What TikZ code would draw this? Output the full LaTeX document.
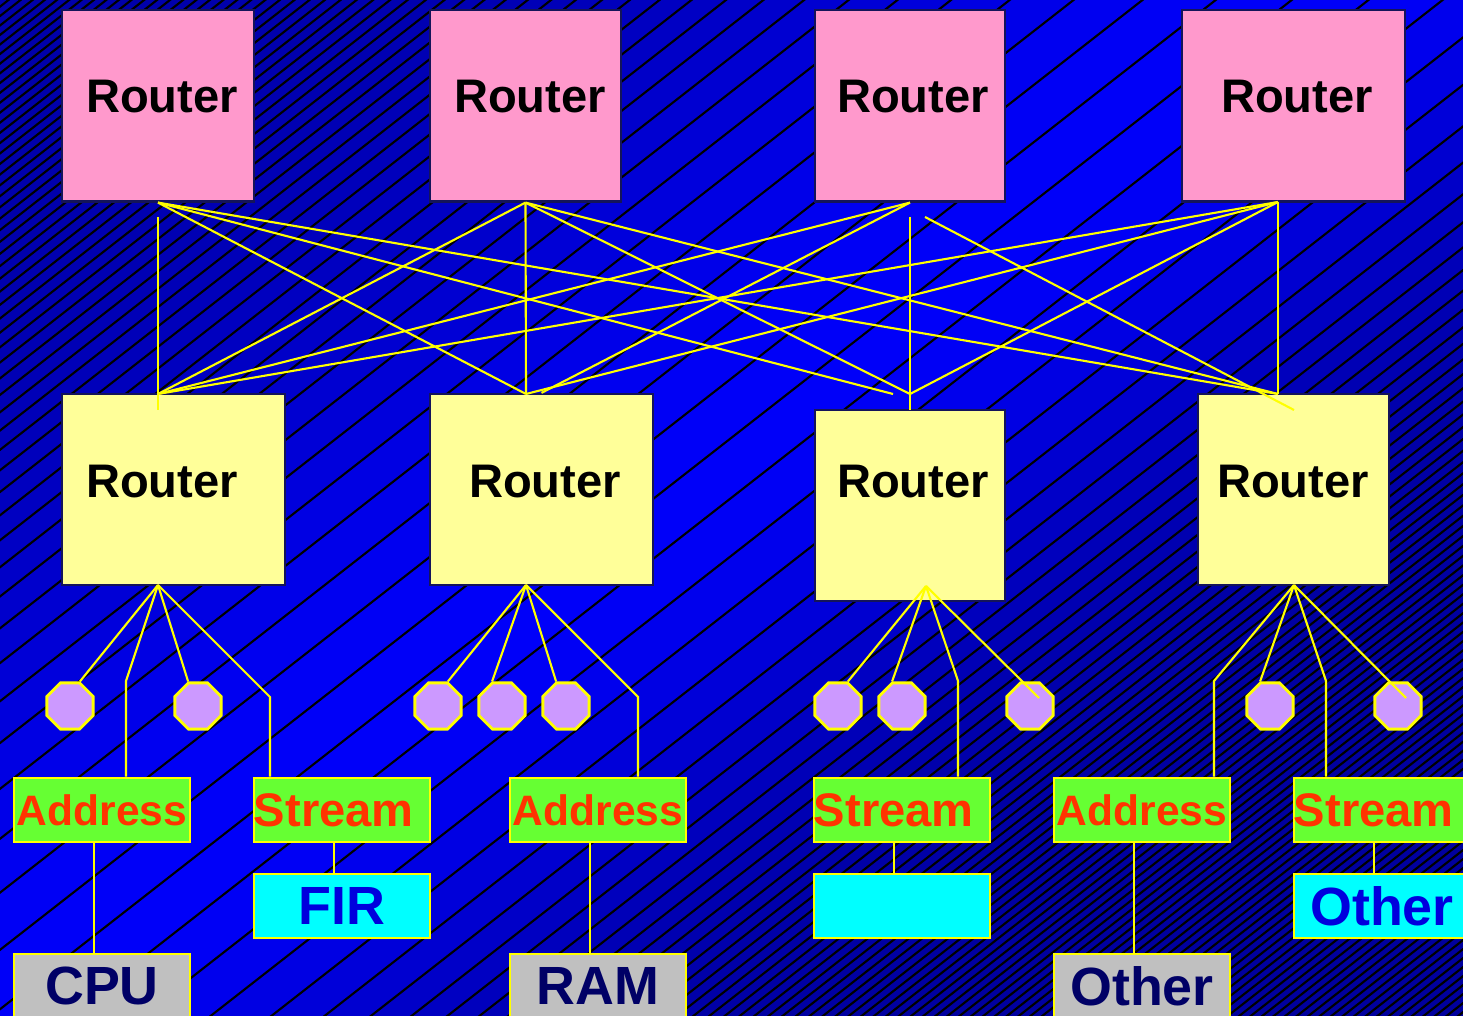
\documentclass[tikz,border=0pt]{standalone}
\usepackage{fontspec}
\setmainfont{Liberation Sans}
\usetikzlibrary{shapes.geometric,calc}

\definecolor{routerpink}{HTML}{FF99CC}
\definecolor{routeryellow}{HTML}{FFFF99}
\definecolor{navyedge}{RGB}{20,20,90}
\definecolor{linkyellow}{HTML}{FFFF00}
\definecolor{portgreen}{HTML}{66FF33}
\definecolor{porttext}{HTML}{FF3300}
\definecolor{devcyan}{HTML}{00FFFF}
\definecolor{devgray}{HTML}{C0C0C0}
\definecolor{devnavy}{HTML}{000066}
\definecolor{devblue}{HTML}{0000DD}
\definecolor{octlilac}{HTML}{CC99FF}

% spacing of the background bands as a function of the offset \cv
\def\bandstep{%
  \pgfmathsetmacro\wv{\cv<1000 ? 450 : 340}%
  \pgfmathsetmacro\gv{exp(-((\cv-1000)/\wv)*((\cv-1000)/\wv))}%
  \pgfmathsetmacro\cn{\cv+9+51*\gv}%
}

\begin{document}
\begin{tikzpicture}[x=0.01cm,y=-0.01cm,
  hatchline/.style={black,line width=0.6pt},
  link/.style={draw=linkyellow,line width=0.6pt},
  routerbox/.style={rectangle,draw=navyedge,line width=0.6pt,inner sep=0pt,minimum height=1.91cm},
  corerouter/.style={routerbox,fill=routerpink},
  edgerouter/.style={routerbox,fill=routeryellow},
  routerlabel/.style={anchor=base,inner sep=0pt,font=\fontsize{13.4}{15}\selectfont\bfseries},
  port/.style={regular polygon,regular polygon sides=8,minimum size=0.5cm,inner sep=0pt,
               fill=octlilac,draw=linkyellow,line width=0.8pt},
  tagbox/.style={rectangle,draw=linkyellow,line width=0.7pt,inner sep=0pt,
                 minimum width=1.76cm,minimum height=0.64cm},
  addrbox/.style={tagbox,fill=portgreen,text=porttext,font=\fontsize{12.1}{13}\selectfont\bfseries},
  streambox/.style={tagbox,fill=portgreen,text=porttext,text width=1.76cm,align=left,
                    font=\fontsize{13.4}{15}\selectfont\bfseries},
  cyanbox/.style={tagbox,fill=devcyan,text=devblue,font=\fontsize{15.3}{17}\selectfont\bfseries},
  graybox/.style={tagbox,fill=devgray,text=devnavy,font=\fontsize{15.3}{17}\selectfont\bfseries}]

\useasboundingbox (0,0) rectangle (1463,1016);
\begin{scope}
\clip (0,0) rectangle (1463,1016);

% banded blue background: parallel bands rising at about 38 degrees
\def\cv{-12}
\loop
  \bandstep
  \pgfmathtruncatemacro\bv{min(255,170-12*(\cv/2160)+85*\gv)}
  \definecolor{bandblue}{RGB}{0,0,\bv}
  \fill[bandblue] (-20,{\cv+15.6}) -- (1483,{\cv-1158.7})
     -- (1483,{\cn+2-1158.7}) -- (-20,{\cn+2+15.6}) -- cycle;
  \let\cv\cn
\ifdim\cv pt<2175pt\repeat

% black boundaries between the bands
\def\cv{-12}
\loop
  \bandstep
  \draw[hatchline] (-20,{\cv+15.6}) -- (1483,{\cv-1158.7});
  \let\cv\cn
\ifdim\cv pt<2175pt\repeat

% core routers
\node[corerouter,minimum width=1.92cm] (r1) at (158,106) {};
\node[corerouter,minimum width=1.91cm] (r2) at (525.5,106) {};
\node[corerouter,minimum width=1.90cm] (r3) at (910,106) {};
\node[corerouter,minimum width=2.23cm] (r4) at (1293.5,106) {};
% edge routers
\node[edgerouter,minimum width=2.23cm] (m1) at (173.5,489.5) {};
\node[edgerouter,minimum width=2.23cm] (m2) at (541.5,489.5) {};
\node[edgerouter,minimum width=1.90cm] (m3) at (910,505.5) {};
\node[edgerouter,minimum width=1.91cm] (m4) at (1293.5,489.5) {};

\node[routerlabel] (r1t) at (162,113) {Router};
\node[routerlabel] (r2t) at (530,113) {Router};
\node[routerlabel] (r3t) at (913,113) {Router};
\node[routerlabel] (r4t) at (1297,113) {Router};
\node[routerlabel] (m1t) at (162,498) {Router};
\node[routerlabel] (m2t) at (545,498) {Router};
\node[routerlabel] (m3t) at (913,498) {Router};
\node[routerlabel] (m4t) at (1293,498) {Router};

% unused ports
\node[port] (p11) at (70,706) {};
\node[port] (p12) at (198,706) {};
\node[port] (p21) at (438,706) {};
\node[port] (p22) at (502,706) {};
\node[port] (p23) at (566,706) {};
\node[port] (p31) at (838,706) {};
\node[port] (p32) at (902,706) {};
\node[port] (p33) at (1030,706) {};
\node[port] (p41) at (1270,706) {};
\node[port] (p42) at (1398,706) {};

% interfaces
\node[addrbox] (a1) at (102,810) {Address};
\node[streambox] (s1) at (342,810) {Stream};
\node[addrbox] (a2) at (598,810) {Address};
\node[streambox] (s2) at (902,810) {Stream};
\node[addrbox] (a3) at (1142,810) {Address};
\node[streambox] (s3) at (1382,810) {Stream};

% attached devices
\node[cyanbox] (f1) at (342,906) {FIR};
\node[cyanbox] (f2) at (902,906) {};
\node[cyanbox] (f3) at (1382,906) {Other};
\node[graybox] (d1) at (102,986) {CPU};
\node[graybox] (d2) at (598,986) {RAM};
\node[graybox] (d3) at (1142,986) {Other};

% router-to-router links
\coordinate (r4s) at (1278,202);
\coordinate (m1n) at (158,394);
\coordinate (m2n) at (526,394);
\coordinate (m3n) at (910,394);
\coordinate (m3w) at (893,394);
\coordinate (m4n) at (1278,394);
\coordinate (k1a) at (158,217);
\coordinate (k1b) at (158,410);
\coordinate (k3a) at (910,217);
\coordinate (k3b) at (910,410);
\coordinate (k4a) at (925,217);
\coordinate (k4b) at (1294,410);

\draw[link] (k1a) -- (k1b);
\draw[link] (r1.south) -- (m2n);
\draw[link] (r1.south) -- (m3w);
\draw[link] (r1.south) -- (m4n);
\draw[link] (r2.south) -- (m1n);
\draw[link] (r2.south) -- (m2n);
\draw[link] (r2.south) -- (m3n);
\draw[link] (r2.south) -- (m4n);
\draw[link] (r3.south) -- (m1n);
\draw[link] (r3.south) -- (m2.north);
\draw[link] (k3a) -- (k3b);
\draw[link] (k4a) -- (k4b);
\draw[link] (r4s) -- (m1n);
\draw[link] (r4s) -- (m2n);
\draw[link] (r4s) -- (m3n);
\draw[link] (r4s) -- (m4n);

% router-to-port links
\coordinate (m1a) at (158,585);
\coordinate (m2a) at (526,585);
\coordinate (m3a) at (926,586);
\coordinate (m4a) at (1294,585);
\coordinate (b11) at (126,681);
\coordinate (b12) at (270,697);
\coordinate (b21) at (638,697);
\coordinate (b31) at (958,681);
\coordinate (e31) at (1039,698);
\coordinate (b41) at (1214,681);
\coordinate (b42) at (1326,681);
\coordinate (e41) at (1406,698);

\draw[link] (m1a) -- (p11.68);
\draw[link] (m1a) -- (b11) -- (b11 |- a1.north);
\draw[link] (m1a) -- (p12.112);
\draw[link] (m1a) -- (b12) -- (b12 |- s1.north);
\draw[link] (m2a) -- (p21.68);
\draw[link] (m2a) -- (p22.112);
\draw[link] (m2a) -- (p23.112);
\draw[link] (m2a) -- (b21) -- (b21 |- a2.north);
\draw[link] (m3a) -- (p31.68);
\draw[link] (m3a) -- (p32.112);
\draw[link] (m3a) -- (b31) -- (b31 |- s2.north);
\draw[link] (m3a) -- (e31);
\draw[link] (m4a) -- (b41) -- (b41 |- a3.north);
\draw[link] (m4a) -- (p41.112);
\draw[link] (m4a) -- (b42) -- (b42 |- s3.north);
\draw[link] (m4a) -- (e41);

% interface-to-device links
\draw[link] ([xshift=-0.08cm]a1.south) -- ([xshift=-0.08cm]d1.north);
\draw[link] ([xshift=-0.08cm]s1.south) -- ([xshift=-0.08cm]f1.north);
\draw[link] ([xshift=-0.08cm]a2.south) -- ([xshift=-0.08cm]d2.north);
\draw[link] ([xshift=-0.08cm]s2.south) -- ([xshift=-0.08cm]f2.north);
\draw[link] ([xshift=-0.08cm]a3.south) -- ([xshift=-0.08cm]d3.north);
\draw[link] ([xshift=-0.08cm]s3.south) -- ([xshift=-0.08cm]f3.north);
\end{scope}
\end{tikzpicture}
\end{document}
